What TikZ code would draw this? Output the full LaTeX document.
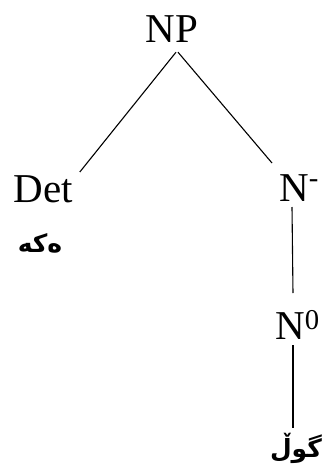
\documentclass[tikz,border=0pt]{standalone}
\usepackage{fontspec}
\setmainfont{Liberation Serif}
\newfontfamily\kurdfont[Script=Arabic]{DejaVu Sans}
\TeXXeTstate=1
\tikzset{
  cat/.style={anchor=base, inner sep=0pt, font=\fontsize{41}{41}\selectfont},
  kurd/.style={anchor=base, inner sep=0pt, font=\fontsize{25}{25}\selectfont\kurdfont\bfseries},
  branch/.style={line width=1.1pt, black}
}
\begin{document}
\begin{tikzpicture}[x=1pt,y=-1pt]
\useasboundingbox (0,0) rectangle (322,464);
\node[cat] (np) at (172,42) {NP};
\node[cat] (det) at (43,202) {Det};
\node[cat] (nbar) at (294,201) {N\rlap{\raisebox{0.1em}{\textsuperscript{-}}}};
\node[cat] (nzero) at (290,339) {N\rlap{\textsuperscript{0}}};
\node[kurd] (deta) at (40,252) {\beginR ەکە\endR};
\node[kurd] (gol) at (296,457) {\beginR گوڵ\endR};
\draw[branch] ([shift={(4,10)}]np.south) -- ([shift={(7,-30)}]det.base east);
\draw[branch] ([shift={(6,10)}]np.south) -- ([shift={(-22,-38)}]nbar.base);
\draw[branch] ([shift={(-2,6)}]nbar.base) -- ([shift={(3,-46)}]nzero.base);
\draw[branch] ([shift={(3,6)}]nzero.base) -- ([shift={(-3,-29)}]gol.base);
\end{tikzpicture}
\end{document}
